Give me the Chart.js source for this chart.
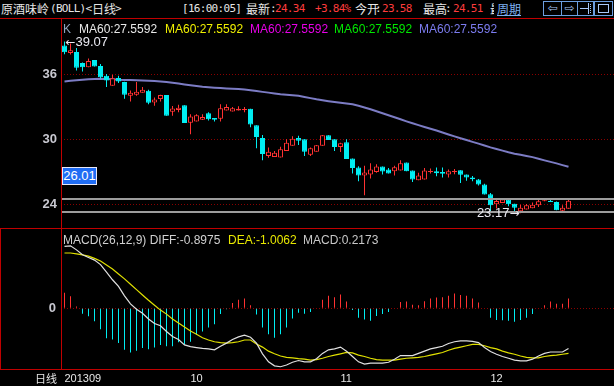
<!DOCTYPE html>
<html><head><meta charset="utf-8">
<script src="https://cdn.jsdelivr.net/npm/chart.js@4.4.1/dist/chart.umd.min.js"></script>
<style>
html,body{margin:0;padding:0;background:#000;}
#wrap{position:relative;width:614px;height:386px;overflow:hidden;background:#000;}
canvas{position:absolute;left:0;}
.t{position:absolute;white-space:nowrap;line-height:18px;top:0;}
.cjk{font-family:"Noto Sans CJK SC",sans-serif;font-size:12px;color:#e6e6e6;}
.mono{font-family:"DejaVu Sans Mono",monospace;font-size:11px;letter-spacing:-0.7px;color:#e6e6e6;}
.r{color:#ff3c3c;}
.lg{position:absolute;white-space:nowrap;font-family:"Liberation Sans",Arial,sans-serif;font-size:12px;line-height:14px;}
.rl{position:absolute;background:#c00000;}
.ib{position:absolute;top:1px;height:13px;border:1px solid #6c9ee0;color:#a8c8f8;font-family:"DejaVu Sans",sans-serif;font-size:12px;line-height:13px;text-align:center;}
.ann{position:absolute;white-space:nowrap;color:#e8e8f0;font-family:"Liberation Sans",Arial,sans-serif;font-size:13px;line-height:16px;}
.ann .ar{font-family:"DejaVu Sans",sans-serif;font-size:12px;}
</style></head>
<body><div id="wrap">
<canvas id="pc" width="614" height="209" style="top:19px"></canvas>
<canvas id="mc" width="614" height="157" style="top:229px"></canvas>

<div class="rl" style="left:0;top:18px;width:614px;height:1px"></div>
<div class="rl" style="left:0;top:228px;width:614px;height:1px"></div>
<div class="rl" style="left:0;top:369px;width:614px;height:1px"></div>
<div class="rl" style="left:61px;top:18px;width:1px;height:352px"></div>
<div class="rl" style="left:0;top:228px;width:1px;height:142px"></div>

<div class="t cjk" style="left:1px">原酒味岭</div>
<div class="t mono" style="left:50px">(BOLL)&lt;</div>
<div class="t cjk" style="left:92px">日线</div>
<div class="t mono" style="left:115px">&gt;</div>
<div class="t mono" style="left:182px">[16:00:05]</div>
<div class="t cjk" style="left:246px">最新</div>
<div class="t mono" style="left:270px">:</div>
<div class="t mono r" style="left:275px">24.34</div>
<div class="t mono r" style="left:315px">+3.84%</div>
<div class="t cjk" style="left:355px">今开</div>
<div class="t mono" style="left:375px">:</div>
<div class="t mono r" style="left:382px">23.58</div>
<div class="t cjk" style="left:423px">最高</div>
<div class="t mono" style="left:445px">:</div>
<div class="t mono r" style="left:453px">24.51</div>
<div class="t" style="left:490px;width:4px;overflow:hidden"><span class="cjk">最低</span></div>
<div class="t cjk" style="left:497px;color:#7eb0f0;text-decoration:underline">周期</div>
<div class="ib" style="left:543px;width:17px">⇦</div>
<div class="ib" style="left:561px;width:15px">⇨</div>
<div class="ib" style="left:577px;width:15px"><div style="position:absolute;left:2px;top:6px;width:8px;height:1px;background:#a8c8f8"></div><div style="position:absolute;left:10px;top:1px;width:1px;height:11px;background:#a8c8f8"></div><div style="position:absolute;left:12px;top:2px;width:1px;height:9px;border-left:1px dotted #a8c8f8"></div></div>
<div class="ib" style="left:594px;width:17px"><div style="position:absolute;left:3px;top:2px;width:9px;height:7px;border:1px solid #a8c8f8"></div></div>

<div class="lg" style="left:63px;top:22px;color:#8fa4bd">K</div>
<div class="lg" style="left:79px;top:22px;color:#e8e8e8">MA60:27.5592</div>
<div class="lg" style="left:165px;top:22px;color:#f0f000">MA60:27.5592</div>
<div class="lg" style="left:250px;top:22px;color:#e800e8">MA60:27.5592</div>
<div class="lg" style="left:334px;top:22px;color:#00e800">MA60:27.5592</div>
<div class="lg" style="left:419px;top:22px;color:#7c7cf0">MA60:27.5592</div>

<div class="lg" style="left:63px;top:233px;color:#d0d0d0">MACD(26,12,9) DIFF:-0.8975</div>
<div class="lg" style="left:228px;top:233px;color:#e8e800">DEA:-1.0062</div>
<div class="lg" style="left:303px;top:233px;color:#c8c8c8">MACD:0.2173</div>

<div style="position:absolute;left:62px;top:167px;width:33px;height:16px;background:#1f6cf4;border:1px solid #e8e8f8;color:#fff;font-family:'Liberation Sans',Arial,sans-serif;font-size:13px;line-height:16px;text-align:center">26.01</div>

<div class="cjk" style="position:absolute;left:35px;top:371px;font-size:11px;line-height:14px;color:#e6e6e6">日线</div>

<div id="hiLbl" class="ann"></div>
<div id="loLbl" class="ann"></div>
</div>
<script>
// ---- data ----
const open  = [38.70,38.00,38.11,37.09,36.68,37.37,36.81,35.91,34.98,35.70,35.32,34.05,34.14,34.33,34.51,33.42,33.74,34.11,32.58,32.74,33.18,31.56,31.66,31.84,32.44,32.00,31.91,32.68,32.59,32.68,32.74,32.84,31.32,30.14,28.47,28.37,28.34,28.93,29.42,30.14,30.02,28.59,28.87,29.42,30.39,30.02,29.30,29.74,28.25,27.41,26.67,26.76,27.00,27.50,27.23,27.07,27.13,27.88,27.13,26.23,26.30,26.98,27.07,27.00,26.76,26.98,27.16,26.76,26.48,26.30,25.83,24.93,24.00,24.12,24.44,24.06,23.35,23.53,23.63,23.91,24.28,24.34,24.21,23.41,23.58];
const high  = [39.07,38.88,38.48,37.12,37.49,37.37,36.99,36.07,36.00,35.90,35.35,34.54,35.32,34.86,34.60,33.89,34.15,34.11,33.10,33.21,33.18,32.34,32.34,32.34,32.53,32.00,33.27,33.27,33.02,33.09,33.00,32.84,31.32,30.42,29.27,28.93,29.33,30.02,30.30,30.35,30.02,29.25,29.50,30.42,30.39,30.02,29.70,30.02,28.25,27.53,27.56,27.79,27.72,27.50,27.35,27.56,28.09,27.88,27.13,26.91,27.35,27.32,27.41,27.41,27.23,27.26,27.16,26.76,26.63,26.35,25.90,25.05,24.49,24.50,24.44,24.06,23.97,24.03,24.16,24.47,24.53,24.53,24.25,23.91,24.51];
const low   = [37.90,37.86,36.40,36.30,36.68,36.77,35.63,34.86,34.98,35.23,33.77,33.52,34.05,34.33,33.27,33.12,33.52,32.19,32.19,32.53,31.53,30.48,31.66,31.80,31.75,31.66,31.66,32.68,32.59,32.68,32.53,31.13,29.18,28.09,28.31,28.37,28.34,28.93,29.42,29.49,28.47,28.47,28.87,29.42,29.95,28.93,28.84,28.19,26.86,26.14,24.84,26.39,26.91,26.76,26.86,26.67,27.13,27.07,26.07,26.23,26.30,26.86,26.60,26.48,26.48,26.79,25.98,26.17,26.14,25.74,24.90,23.19,23.60,24.12,23.81,23.35,23.17,23.53,23.63,23.75,24.28,24.21,23.44,23.19,23.58];
const close = [38.07,38.26,36.65,36.68,37.27,36.77,35.77,35.47,35.66,35.38,34.14,34.33,34.42,34.60,33.40,33.70,34.11,32.19,32.88,32.93,31.53,32.12,32.25,32.09,31.88,31.84,32.90,33.02,32.90,32.84,32.78,31.38,30.23,28.65,28.87,28.77,29.09,29.70,30.07,29.89,28.87,29.18,29.46,30.39,29.95,29.30,29.65,28.19,27.35,26.67,26.95,27.23,27.50,27.04,26.86,27.44,27.81,27.07,26.30,26.67,27.13,27.07,26.88,26.82,27.07,27.07,26.73,26.48,26.33,25.83,24.90,23.91,24.31,24.44,24.00,23.69,23.69,23.91,23.97,24.28,24.37,24.21,23.44,23.69,24.34];
const ma60  = [35.38,35.43,35.48,35.53,35.57,35.60,35.63,35.61,35.58,35.54,35.52,35.50,35.48,35.46,35.43,35.41,35.38,35.32,35.25,35.18,35.10,35.03,34.96,34.89,34.84,34.80,34.76,34.73,34.71,34.68,34.63,34.57,34.49,34.41,34.34,34.27,34.20,34.15,34.10,34.05,33.94,33.83,33.72,33.64,33.55,33.47,33.40,33.33,33.27,33.12,32.97,32.80,32.62,32.43,32.25,32.06,31.87,31.68,31.50,31.33,31.16,31.00,30.83,30.65,30.47,30.29,30.12,29.95,29.78,29.62,29.44,29.27,29.12,28.97,28.82,28.69,28.58,28.47,28.37,28.22,28.07,27.93,27.79,27.63,27.47];
const diff  = [1.39,1.40,1.31,1.20,1.14,1.08,0.98,0.81,0.64,0.49,0.28,0.10,-0.02,-0.11,-0.24,-0.34,-0.39,-0.52,-0.63,-0.70,-0.82,-0.86,-0.88,-0.90,-0.91,-0.93,-0.85,-0.78,-0.70,-0.64,-0.60,-0.65,-0.78,-1.02,-1.20,-1.29,-1.31,-1.27,-1.21,-1.17,-1.20,-1.20,-1.13,-1.01,-0.93,-0.91,-0.87,-0.96,-1.08,-1.20,-1.25,-1.23,-1.23,-1.23,-1.21,-1.14,-1.06,-1.06,-1.06,-1.01,-0.96,-0.91,-0.88,-0.85,-0.79,-0.75,-0.73,-0.73,-0.74,-0.77,-0.88,-0.97,-1.03,-1.08,-1.12,-1.16,-1.18,-1.18,-1.14,-1.07,-1.01,-0.98,-0.98,-0.98,-0.90];
const dea   = [1.24,1.24,1.22,1.20,1.17,1.12,1.06,0.97,0.88,0.77,0.66,0.54,0.42,0.30,0.18,0.07,-0.04,-0.13,-0.24,-0.33,-0.42,-0.51,-0.58,-0.66,-0.71,-0.75,-0.77,-0.78,-0.77,-0.75,-0.71,-0.71,-0.80,-0.87,-0.96,-1.02,-1.07,-1.10,-1.11,-1.13,-1.14,-1.16,-1.15,-1.12,-1.08,-1.05,-1.02,-0.99,-1.00,-1.05,-1.08,-1.12,-1.15,-1.16,-1.16,-1.16,-1.14,-1.12,-1.11,-1.10,-1.08,-1.05,-1.02,-0.99,-0.94,-0.90,-0.87,-0.84,-0.81,-0.81,-0.84,-0.88,-0.91,-0.96,-1.00,-1.03,-1.07,-1.10,-1.11,-1.11,-1.08,-1.06,-1.05,-1.03,-1.01];
const macd  = [0.35,0.27,0.04,-0.12,-0.18,-0.29,-0.47,-0.67,-0.70,-0.78,-0.93,-0.99,-0.95,-0.89,-0.92,-0.88,-0.82,-0.85,-0.85,-0.76,-0.81,-0.75,-0.60,-0.52,-0.43,-0.36,-0.13,-0.02,0.12,0.19,0.22,0.07,-0.14,-0.43,-0.58,-0.66,-0.58,-0.43,-0.23,-0.10,-0.12,-0.08,0.01,0.19,0.28,0.25,0.31,0.15,-0.04,-0.21,-0.25,-0.28,-0.17,-0.13,-0.08,0.01,0.14,0.15,0.08,0.07,0.16,0.22,0.24,0.25,0.28,0.33,0.30,0.28,0.22,0.13,-0.01,-0.21,-0.26,-0.27,-0.28,-0.30,-0.26,-0.21,-0.13,-0.01,0.07,0.15,0.10,0.10,0.22];
const refLines   = [24.50, 23.28];
const priceTicks = [24, 30, 36];
const macdTicks  = [0];
const monthTicks = [0, 21, 46, 71];
const monthLabels = ['201309', '10', '11', '12'];

// ---- styles / axis geometry ----
const RED = '#ff3232', CY = '#00eef2';
const X_MIN = -0.5833, X_MAX = 91.5833;
const P_MIN = 21.806, P_MAX = 41.157;
const M_MIN = -1.383, M_MAX = 1.778;
const idx = open.map((_, i) => i);
const up = i => close[i] >= open[i];
const tickFont = {family: 'Liberation Sans', size: 13, weight: 'bold'};

const refPlugin = {
  id: 'refLines',
  afterDatasetsDraw(chart) {
    const {ctx, chartArea} = chart, ys = chart.scales.y;
    ctx.save();
    ctx.strokeStyle = '#9c9c9c';
    ctx.lineWidth = 2;
    refLines.forEach(v => {
      const y = Math.round(ys.getPixelForValue(v));
      ctx.beginPath(); ctx.moveTo(chartArea.left + 1, y); ctx.lineTo(chartArea.right, y); ctx.stroke();
    });
    ctx.restore();
  },
  afterDraw(chart) {
    const xs = chart.scales.x, ys = chart.scales.y, top0 = chart.canvas.offsetTop;
    let hi = 0, lo = 0;
    for (let i = 0; i < high.length; i++) { if (high[i] > high[hi]) hi = i; if (low[i] < low[lo]) lo = i; }
    const h = document.getElementById('hiLbl');
    h.innerHTML = '<span class="ar">←</span>' + high[hi].toFixed(2);
    h.style.left = (xs.getPixelForValue(hi) + 1) + 'px';
    h.style.top = (top0 + ys.getPixelForValue(high[hi]) - 8) + 'px';
    const l = document.getElementById('loLbl');
    l.innerHTML = low[lo].toFixed(2) + '<span class="ar">→</span>';
    l.style.left = (xs.getPixelForValue(lo) - 1) + 'px';
    l.style.transform = 'translateX(-100%)';
    l.style.top = (top0 + ys.getPixelForValue(low[lo]) - 8) + 'px';
  }
};

new Chart(document.getElementById('pc'), {
  type: 'bar',
  data: {datasets: [
    {type: 'bar', data: idx.map(i => ({x: i, y: [open[i], close[i]]})), order: 0,
     barThickness: 5, grouped: false, borderSkipped: false, borderWidth: 1, minBarLength: 1, inflateAmount: 0,
     backgroundColor: c => up(c.dataIndex) ? '#000' : CY, borderColor: c => up(c.dataIndex) ? RED : CY},
    {type: 'bar', data: idx.map(i => ({x: i, y: [low[i], high[i]]})), order: 1,
     barThickness: 1, grouped: false, borderWidth: 0, inflateAmount: 0,
     backgroundColor: c => up(c.dataIndex) ? RED : CY},
    {type: 'line', data: idx.map(i => ({x: i, y: ma60[i]})), order: 2,
     borderColor: '#7c7cc4', borderWidth: 2, pointRadius: 0, tension: 0}
  ]},
  options: {
    responsive: false, animation: false, devicePixelRatio: 1, events: [],
    layout: {padding: 0},
    plugins: {legend: {display: false}, tooltip: {enabled: false}},
    scales: {
      x: {type: 'linear', min: X_MIN, max: X_MAX, display: false, offset: false},
      y: {min: P_MIN, max: P_MAX,
          afterBuildTicks: s => { s.ticks = priceTicks.map(v => ({value: v})); },
          afterFit: s => { s.width = 61; s.paddingTop = 0; s.paddingBottom = 0; },
          ticks: {color: '#c8c8d0', font: tickFont, padding: 4},
          grid: {color: '#8a0000', drawTicks: false, lineWidth: 1},
          border: {display: false, dash: [1, 2]}}
    }
  },
  plugins: [refPlugin]
});

new Chart(document.getElementById('mc'), {
  type: 'bar',
  data: {datasets: [
    {type: 'bar', data: idx.map(i => ({x: i, y: macd[i]})), order: 2,
     barThickness: 1, grouped: false, borderWidth: 0, inflateAmount: 0,
     backgroundColor: c => macd[c.dataIndex] >= 0 ? RED : CY},
    {type: 'line', data: idx.map(i => ({x: i, y: dea[i]})), order: 1,
     borderColor: '#e0e000', borderWidth: 1.2, pointRadius: 0, tension: 0},
    {type: 'line', data: idx.map(i => ({x: i, y: diff[i]})), order: 0,
     borderColor: '#e0e0e0', borderWidth: 1.2, pointRadius: 0, tension: 0}
  ]},
  options: {
    responsive: false, animation: false, devicePixelRatio: 1, events: [],
    layout: {padding: 0},
    plugins: {legend: {display: false}, tooltip: {enabled: false}},
    scales: {
      x: {type: 'linear', min: X_MIN, max: X_MAX, offset: false,
          afterBuildTicks: s => { s.ticks = monthTicks.map(v => ({value: v})); },
          afterFit: s => { s.height = 16; s.paddingLeft = 0; s.paddingRight = 0; },
          ticks: {align: 'start', autoSkip: false, maxRotation: 0, padding: 2, color: '#e6e6e6',
                  font: {family: 'Liberation Sans', size: 11},
                  callback: v => monthLabels[monthTicks.indexOf(v)]},
          grid: {display: false, drawTicks: false}, border: {display: false}},
      y: {min: M_MIN, max: M_MAX,
          afterBuildTicks: s => { s.ticks = macdTicks.map(v => ({value: v})); },
          afterFit: s => { s.width = 61; s.paddingTop = 0; s.paddingBottom = 0; },
          ticks: {color: '#c8c8d0', font: tickFont, padding: 5},
          grid: {color: '#8a0000', drawTicks: false, lineWidth: 1},
          border: {display: false, dash: [1, 2]}}
    }
  }
});
</script>
</body></html>
